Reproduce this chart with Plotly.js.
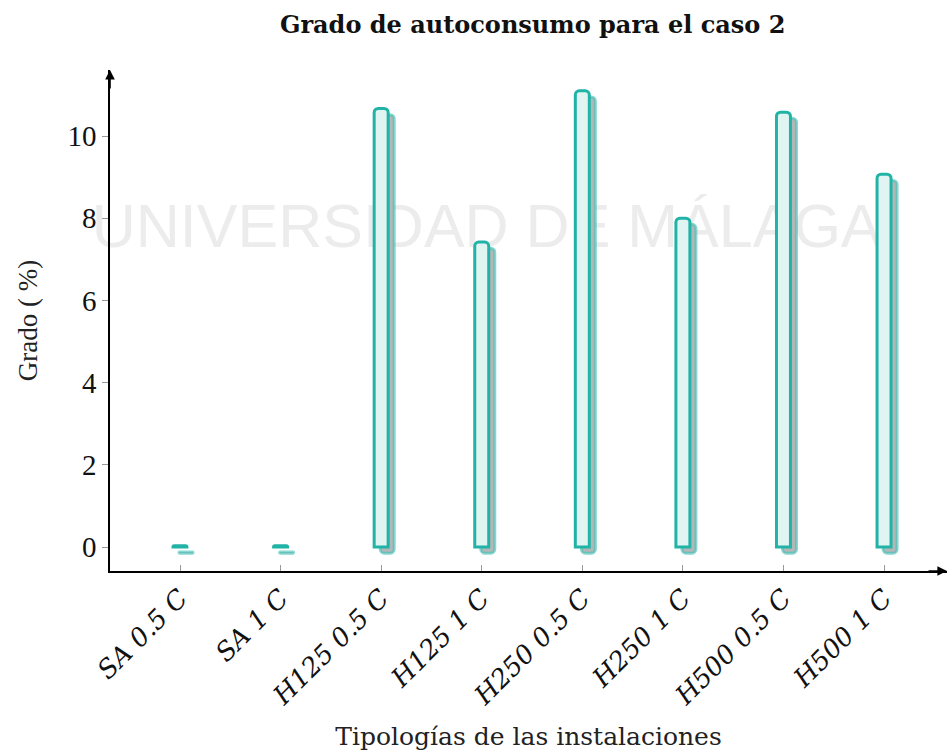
<!DOCTYPE html>
<html>
<head>
<meta charset="utf-8">
<script src="https://cdn.plot.ly/plotly-3.0.1.min.js"></script>
<style>html,body{margin:0;padding:0;background:#fff;}#chart{width:951px;height:751px;}</style>
</head>
<body>
<div id="chart"></div>
<script>
const categories = ["SA 0.5 C", "SA 1 C", "H125 0.5 C", "H125 1 C", "H250 0.5 C", "H250 1 C", "H500 0.5 C", "H500 1 C"];
const values = [0.03, 0.03, 10.67, 7.42, 11.1, 8.0, 10.58, 9.07];
const yTicks = [0, 2, 4, 6, 8, 10];
const chartTitle = "Grado de autoconsumo para el caso 2";
const xTitle = "Tipologías de las instalaciones";
const yTitle = "Grado ( %)";
const watermark = "UNIVERSIDAD DE MÁLAGA";

const barW = 0.139;
const shadowDx = 0.06;
const shadowDy = 0.15;

const shadow = {
  type: "bar", x: categories, y: values,
  base: values.map(() => -shadowDy),
  width: barW, offset: -barW / 2 + shadowDx,
  marker: {color: "#b3b7b7", line: {color: "rgba(70,195,185,0.65)", width: 3}, cornerradius: 4},
  hoverinfo: "skip", showlegend: false
};
const main = {
  type: "bar", x: categories, y: values,
  width: barW, offset: -barW / 2,
  marker: {color: "#e0f4f2", line: {color: "#22b3a7", width: 3}, cornerradius: 4},
  showlegend: false
};

const layout = {
  width: 951, height: 751,
  margin: {l: 110, r: 4, t: 70, b: 180},
  paper_bgcolor: "#fff", plot_bgcolor: "rgba(0,0,0,0)",
  barmode: "overlay",
  title: {text: "<b>" + chartTitle + "</b>", x: 0.505, xref: "paper", xanchor: "center", y: 0.967, yanchor: "middle",
          font: {family: "DejaVu Serif", size: 24, color: "#111"}},
  xaxis: {
    type: "category", range: [-0.696, 7.626],
    showline: true, linecolor: "#000", linewidth: 1.6,
    ticks: "inside", ticklen: 6, tickcolor: "#999", tickwidth: 1,
    tickangle: -45, showgrid: false, zeroline: false,
    tickfont: {family: "DejaVu Serif", size: 26, color: "#111", style: "italic"},
    title: {text: xTitle, standoff: 22, font: {family: "DejaVu Serif", size: 25, color: "#222"}},
    automargin: false
  },
  yaxis: {
    range: [-0.584, 11.606], tickvals: yTicks, ticktext: yTicks.map(String),
    showline: true, linecolor: "#000", linewidth: 1.6,
    ticks: "outside", ticklen: 6, tickcolor: "#999", tickwidth: 1,
    showgrid: false, zeroline: false,
    tickfont: {family: "Liberation Serif", size: 29, color: "#111"},
    title: {text: yTitle, standoff: 22, font: {family: "Liberation Serif", size: 27, color: "#222"}},
    automargin: false
  },
  shapes: [
    {type: "rect", xref: "paper", yref: "paper", x0: 0.0, x1: 0.9, y0: 0.63, y1: 0.77,
     layer: "below", line: {width: 0}, fillcolor: "rgba(0,0,0,0)",
     label: {text: watermark, textposition: "middle center",
             font: {family: "Liberation Sans", size: 61, color: "#ececec"}}}
  ],
  annotations: [
    {xref: "paper", yref: "paper", x: 1.0, y: 0, ax: -20, ay: 0, text: "", showarrow: true,
     arrowhead: 2, arrowsize: 1.2, arrowwidth: 1.6, arrowcolor: "#000"},
    {xref: "paper", yref: "paper", x: 0, y: 1.0, ax: 0, ay: 20, text: "", showarrow: true,
     arrowhead: 2, arrowsize: 1.2, arrowwidth: 1.6, arrowcolor: "#000"}
  ]
};

Plotly.newPlot("chart", [shadow, main], layout, {displayModeBar: false, staticPlot: true});
</script>
</body>
</html>
